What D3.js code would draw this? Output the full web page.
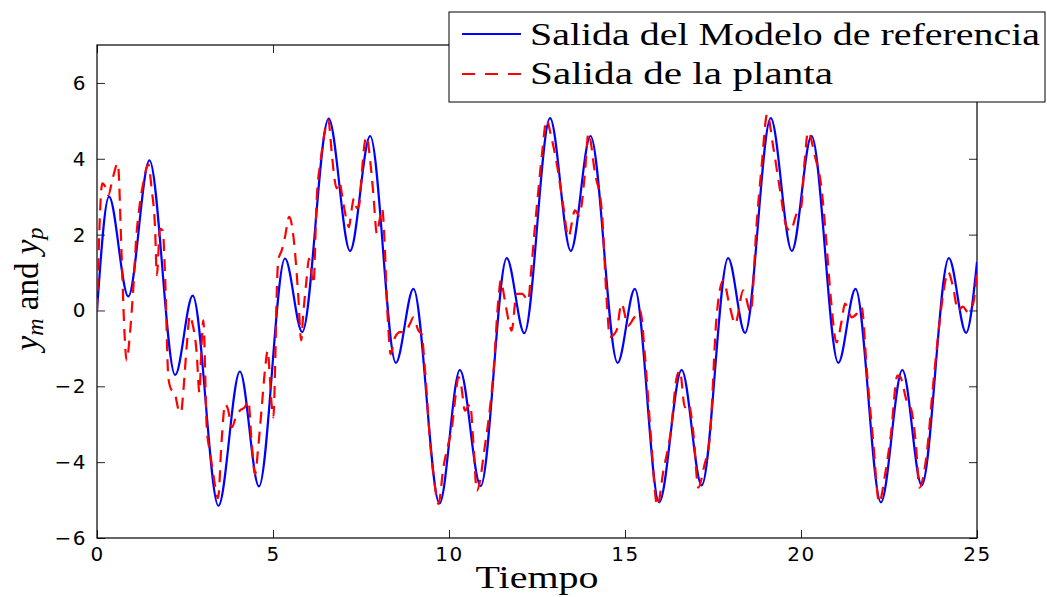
<!DOCTYPE html>
<html><head><meta charset="utf-8">
<script src="https://cdn.jsdelivr.net/npm/d3@7/dist/d3.min.js"></script>
<style>body{margin:0;background:#fff}</style>
</head><body><svg id="c" width="1047" height="597"></svg>
<script>
// Reference model output: extrema (time, value)
const blueT = [0, 0.34, 0.89, 1.49, 2.22, 2.72, 3.45, 4.06, 4.60, 5.34, 5.83, 6.58, 7.19, 7.76, 8.49, 8.99, 9.73, 10.31, 10.90, 11.64, 12.14, 12.87, 13.46, 14.02, 14.79, 15.28, 15.97, 16.61, 17.18, 17.93, 18.41, 19.14, 19.74, 20.30, 21.06, 21.55, 22.27, 22.88, 23.43, 24.20, 24.69, 25.00];
const blueV = [0, 3.00, 0.37, 3.96, -1.70, 0.39, -5.15, -1.61, -4.64, 1.37, -0.57, 5.06, 1.57, 4.60, -1.38, 0.57, -5.09, -1.57, -4.63, 1.38, -0.60, 5.07, 1.57, 4.60, -1.38, 0.57, -5.06, -1.57, -4.61, 1.38, -0.59, 5.07, 1.57, 4.60, -1.38, 0.57, -5.06, -1.57, -4.61, 1.38, -0.59, 1.28];

// Plant output (time, value)
const redT = [0.00, 0.15, 0.24, 0.32, 0.45, 0.59, 0.70, 0.78, 0.84, 0.94, 1.03, 1.12, 1.20, 1.32, 1.46, 1.55, 1.65, 1.70, 1.79, 1.87, 1.93, 2.03, 2.12, 2.20, 2.31, 2.39, 2.45, 2.55, 2.64, 2.70, 2.83, 2.91, 2.97, 3.02, 3.12, 3.21, 3.30, 3.44, 3.54, 3.64, 3.72, 3.83, 3.95, 4.06, 4.20, 4.30, 4.39, 4.49, 4.58, 4.68, 4.77, 4.85, 4.91, 4.96, 5.01, 5.06, 5.10, 5.15, 5.25, 5.34, 5.46, 5.62, 5.72, 5.80, 5.86, 5.96, 6.02, 6.15, 6.24, 6.36, 6.48, 6.57, 6.67, 6.74, 6.81, 6.88, 7.00, 7.09, 7.16, 7.23, 7.30, 7.38, 7.44, 7.52, 7.61, 7.66, 7.76, 7.85, 7.95, 8.03, 8.10, 8.18, 8.23, 8.28, 8.34, 8.47, 8.61, 8.75, 8.89, 8.99, 9.13, 9.22, 9.32, 9.46, 9.58, 9.70, 9.84, 9.98, 10.08, 10.18, 10.27, 10.35, 10.45, 10.53, 10.60, 10.70, 10.79, 10.88, 11.00, 11.12, 11.26, 11.40, 11.47, 11.58, 11.70, 11.78, 11.92, 12.08, 12.25, 12.33, 12.45, 12.53, 12.65, 12.77, 12.90, 13.06, 13.25, 13.39, 13.58, 13.70, 13.86, 13.96, 14.15, 14.34, 14.48, 14.57, 14.76, 14.90, 15.09, 15.25, 15.43, 15.57, 15.71, 15.92, 16.09, 16.30, 16.47, 16.56, 16.70, 16.80, 16.95, 17.08, 17.25, 17.41, 17.60, 17.79, 17.98, 18.13, 18.36, 18.57, 18.74, 18.88, 19.04, 19.21, 19.40, 19.59, 19.70, 19.88, 20.00, 20.10, 20.20, 20.40, 20.59, 20.72, 20.85, 21.01, 21.15, 21.25, 21.44, 21.58, 21.72, 21.88, 22.05, 22.22, 22.39, 22.55, 22.74, 22.82, 23.00, 23.14, 23.27, 23.36, 23.57, 23.75, 23.90, 24.04, 24.18, 24.32, 24.46, 24.60, 24.74, 24.89, 25.00];
const redV = [0.00, 3.35, 3.25, 3.04, 3.50, 3.88, 1.45, -0.57, -1.32, -0.57, 0.57, 1.98, 2.69, 3.39, 3.85, 3.22, 2.16, 0.93, 2.16, 2.10, 1.01, -1.80, -2.10, -2.15, -2.60, -2.69, -2.16, -0.93, -0.13, -0.30, -1.10, -2.16, -0.93, -0.26, -3.13, -3.74, -4.30, -4.95, -3.44, -2.47, -2.60, -3.08, -2.80, -2.64, -2.55, -2.38, -3.44, -4.32, -3.61, -2.55, -1.59, -1.06, -1.76, -2.47, -2.82, -1.50, 0.26, 1.32, 1.59, 1.94, 2.47, 1.59, 0.35, -0.79, -0.09, 0.88, 1.37, 0.70, 2.91, 4.00, 4.76, 5.02, 4.14, 3.52, 3.22, 3.39, 2.82, 2.38, 2.20, 2.64, 2.95, 2.70, 2.75, 3.60, 4.45, 4.58, 3.96, 3.08, 2.03, 2.40, 2.69, 1.59, 0.35, -0.53, -1.15, -0.70, -0.57, -0.57, -0.35, -0.18, -0.53, -0.62, -1.59, -3.44, -4.50, -5.10, -4.14, -3.52, -3.10, -2.30, -1.76, -2.00, -2.64, -2.55, -2.47, -3.60, -4.76, -4.50, -3.70, -2.91, -1.67, 0.26, 0.79, 0.30, -0.30, -0.53, 0.44, 0.44, 0.26, 1.00, 2.30, 3.08, 4.20, 5.02, 4.60, 3.88, 2.73, 1.94, 2.64, 2.50, 3.61, 4.67, 3.61, 2.64, 0.26, -0.70, -0.53, 0.18, -0.40, -0.20, 0.00, -1.23, -3.00, -5.15, -4.23, -3.20, -1.76, -1.59, -2.55, -2.45, -3.30, -4.67, -4.10, -3.35, -0.18, 0.79, 0.09, -0.35, 0.53, -0.04, 2.29, 3.79, 5.18, 4.32, 3.20, 2.20, 2.10, 2.56, 2.70, 3.90, 4.71, 4.05, 3.17, 1.80, 0.30, -0.84, -0.30, 0.18, -0.18, -0.09, 0.09, -1.70, -3.44, -5.06, -4.32, -3.30, -1.72, -1.75, -2.38, -2.64, -3.60, -4.67, -3.79, -2.00, -0.62, 0.44, 1.01, 0.62, 0.00, 0.10, -0.04, 0.18, 1.06];

const xTicks = [0, 5, 10, 15, 20, 25];
const yTicks = [-6, -4, -2, 0, 2, 4, 6];
const legendLabels = ["Salida del Modelo de referencia", "Salida de la planta"];
const seriesColors = ["#0000ff", "#ff0000"];
const xLabel = "Tiempo";

const svg = d3.select("#c");
const L = 97, R = 977, T = 45, B = 538;
const x = d3.scaleLinear().domain([0, 25]).range([L, R]);
const y = d3.scaleLinear().domain([-6, 7]).range([B, T]);

svg.append("defs").append("clipPath").attr("id", "clip")
  .append("rect").attr("x", L).attr("y", T).attr("width", R - L).attr("height", B - T);

const tickFont = "'DejaVu Sans', sans-serif";
const serif = "'Liberation Serif', 'DejaVu Serif', serif";

// axes with inward ticks
const gx = svg.append("g").attr("transform", `translate(0,${B})`)
  .call(d3.axisBottom(x).tickValues(xTicks).tickSizeInner(-8).tickSizeOuter(0).tickPadding(9));
const gy = svg.append("g").attr("transform", `translate(${L},0)`)
  .call(d3.axisLeft(y).tickValues(yTicks).tickSizeInner(-8).tickSizeOuter(0).tickPadding(10));
const gt = svg.append("g").attr("transform", `translate(0,${T})`)
  .call(d3.axisTop(x).tickValues(xTicks).tickSizeInner(-8).tickSizeOuter(0).tickFormat(""));
const gr = svg.append("g").attr("transform", `translate(${R},0)`)
  .call(d3.axisRight(y).tickValues(yTicks).tickSizeInner(-8).tickSizeOuter(0).tickFormat(""));
[gx, gy, gt, gr].forEach(g => {
  g.select(".domain").remove();
  g.selectAll(".tick line").attr("stroke", "#262626").attr("stroke-width", 1);
  g.selectAll("text").attr("font-family", tickFont).attr("font-size", 20)
    .attr("fill", "#000").attr("letter-spacing", 1.5);
});

// frame
svg.append("rect").attr("x", L).attr("y", T).attr("width", R - L).attr("height", B - T)
  .attr("fill", "none").attr("stroke", "#000").attr("stroke-width", 1.2);

const line = d3.line().x(d => x(d[0])).y(d => y(d[1])).curve(d3.curveMonotoneX);
const blue = blueT.map((t, i) => [t, blueV[i]]);
const red = redT.map((t, i) => [t, redV[i]]);

const plot = svg.append("g").attr("clip-path", "url(#clip)");
plot.append("path").datum(blue).attr("d", line).attr("fill", "none")
  .attr("stroke", seriesColors[0]).attr("stroke-width", 2.2);
plot.append("path").datum(red).attr("d", line).attr("fill", "none")
  .attr("stroke", seriesColors[1]).attr("stroke-width", 2.2).attr("stroke-dasharray", "12,8");

// legend
const lg = svg.append("g");
lg.append("rect").attr("x", 449).attr("y", 12).attr("width", 596).attr("height", 90)
  .attr("fill", "#fff").attr("stroke", "#000").attr("stroke-width", 1);
const legY = [34, 74], legBase = [45, 84], legW = [510, 303];
legendLabels.forEach((lab, i) => {
  lg.append("line").attr("x1", 462).attr("x2", 521).attr("y1", legY[i]).attr("y2", legY[i])
    .attr("stroke", seriesColors[i]).attr("stroke-width", 2)
    .attr("stroke-dasharray", i === 1 ? "13,10" : null);
  lg.append("text").attr("x", 530).attr("y", legBase[i]).text(lab)
    .attr("font-family", serif).attr("font-size", 31)
    .attr("textLength", legW[i]).attr("lengthAdjust", "spacingAndGlyphs");
});

// x label
svg.append("text").attr("x", 537).attr("y", 588).attr("text-anchor", "middle")
  .attr("font-family", serif).attr("font-size", 31).text(xLabel)
  .attr("textLength", 123).attr("lengthAdjust", "spacingAndGlyphs");

// y label
const yl = svg.append("text").attr("transform", "translate(38,289) rotate(-90)")
  .attr("text-anchor", "middle").attr("font-family", serif).attr("font-size", 33);
yl.append("tspan").attr("font-style", "italic").text("y");
yl.append("tspan").attr("font-style", "italic").attr("font-size", 24).attr("dy", 5).text("m");
yl.append("tspan").attr("dy", -5).text(" and ");
yl.append("tspan").attr("font-style", "italic").text("y");
yl.append("tspan").attr("font-style", "italic").attr("font-size", 24).attr("dy", 5).text("p");
</script></body></html>
